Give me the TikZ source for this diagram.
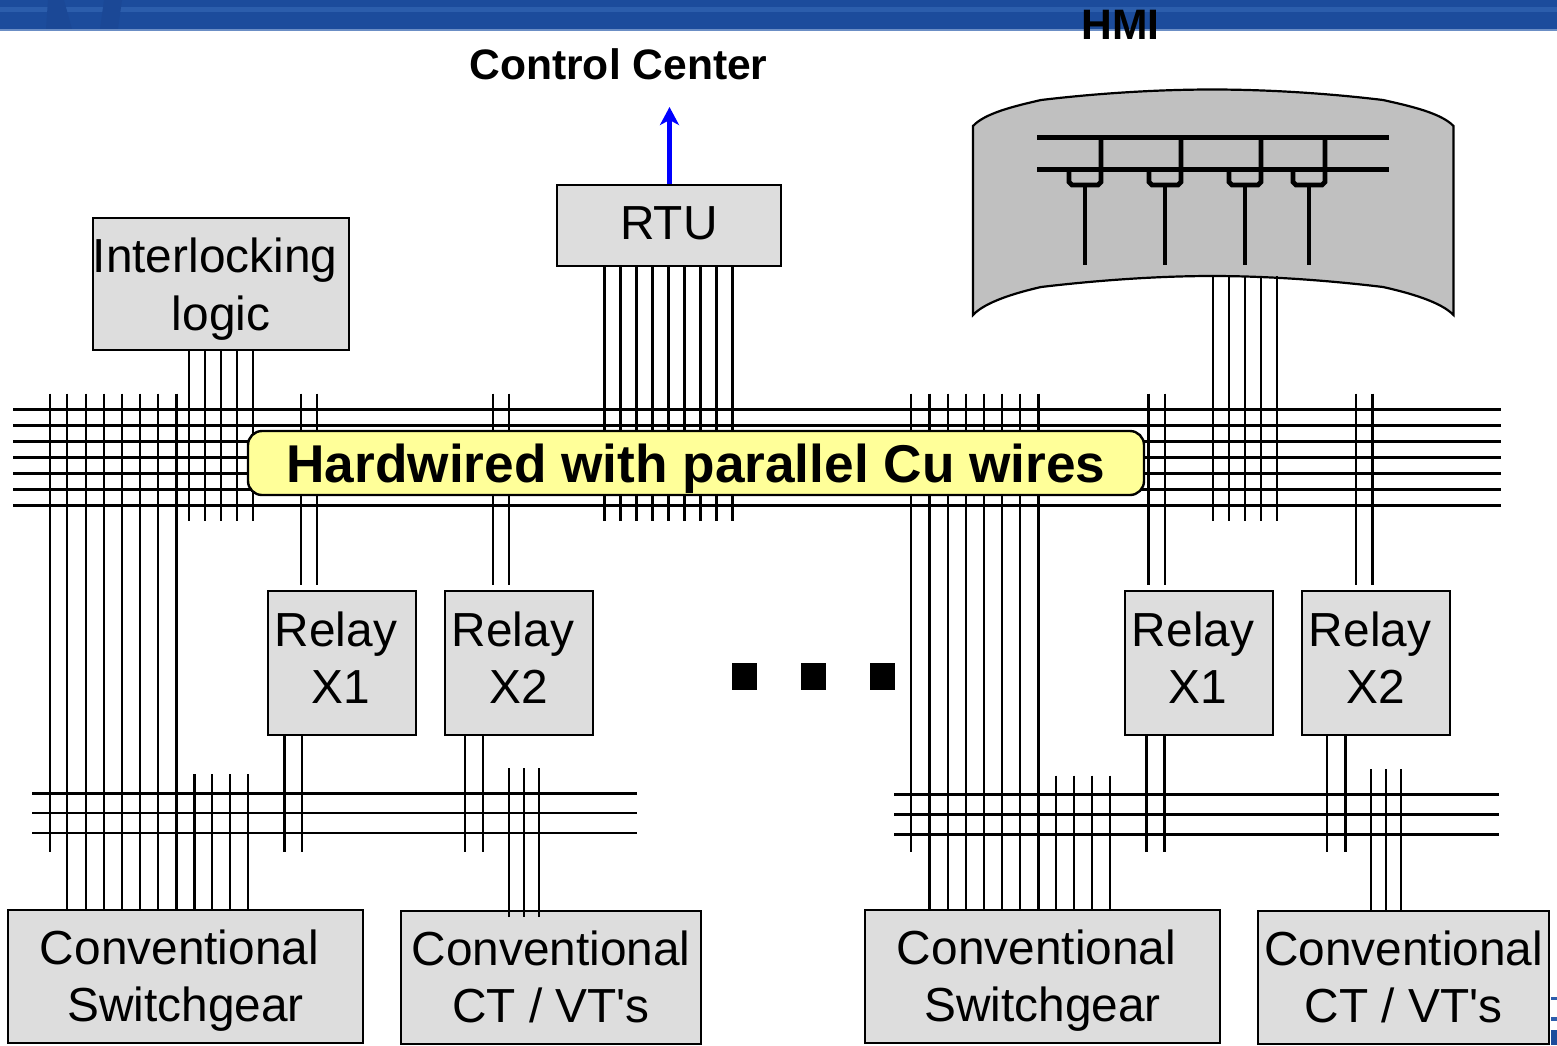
\documentclass[tikz,border=0pt]{standalone}
\usepackage{fontspec}
\setmainfont{Liberation Sans}[Ligatures=TeXOff]
\usetikzlibrary{arrows.meta}
\definecolor{bandblue}{HTML}{1C4C9C}
\definecolor{bandlight}{HTML}{2C5EAC}
\definecolor{banddark}{HTML}{1B4896}
\definecolor{boxgray}{HTML}{DDDDDD}
\definecolor{hmigray}{HTML}{C0C0C0}
\definecolor{labelyellow}{HTML}{FFFF99}
\tikzset{
  wire/.style={line width=1.1pt},
  hmiwire/.style={line width=2.4pt},
  boxnode/.style={draw=black,line width=1.1pt,fill=boxgray,inner sep=0pt,align=center,
    font=\fontsize{23.9}{28.5}\selectfont},
  titlenode/.style={font=\fontsize{21.3}{25}\selectfont\bfseries,inner sep=0pt},
  dotnode/.style={fill=black,inner sep=0pt,minimum width=12.5pt,minimum height=13.5pt}
}
\newcommand{\boxline}[3]{\raisebox{#2}[\height][\depth]{#3}\kern#1}
\newcommand{\wirerun}[4]{%
  \foreach \x [count=\i] in {#2} {
    \coordinate (#1top\i) at (\x,0 |- #3);
    \coordinate (#1end\i) at (\x,0 |- #4);
    \draw[wire] (#1top\i) to (#1end\i);
  }}
\newcommand{\busrun}[4]{%
  \foreach \y [count=\i] in {#2} {
    \coordinate (#1left\i) at (#3,\y);
    \coordinate (#1right\i) at (#4,\y);
    \draw[wire] (#1left\i) to (#1right\i);
  }}
\begin{document}
\begin{tikzpicture}[x=0.5pt,y=-0.5pt]
  \useasboundingbox (0,0) rectangle (1557,1045);
  % top band
  \fill[bandblue] (0,0) rectangle (1557,29);
  \fill[bandlight] (0,7) rectangle (1557,12);
  \fill[banddark] (48,0) -- (64,0) -- (72,29) -- (46,29) -- cycle;
  \fill[banddark] (104,0) -- (122,0) -- (118,29) -- (100,29) -- cycle;
  \fill[bandlight!70!white] (0,28.5) rectangle (1557,31);
  % corner of the logo
  \fill[bandblue] (1551,1030) rectangle (1557,1045);
  \fill[bandlight] (1551,997) rectangle (1557,1000);
  \fill[bandlight] (1551,1017) rectangle (1557,1021);
  % levels used by the wires
  \coordinate (bustop) at (0,393.5);
  \coordinate (busend) at (0,521);
  \coordinate (relaystop) at (0,585);
  \coordinate (lowend) at (0,852);
  % boxes
  \draw
    (221,284) node[boxnode,minimum width=128pt,minimum height=66pt] (interlock){\boxline{6pt}{-2.5pt}{Interlocking}\\\boxline{0pt}{-2.8pt}{logic}}
    (669,225.5) node[boxnode,minimum width=112pt,minimum height=40.5pt] (rtu){\boxline{0pt}{1pt}{RTU}}
    (342,663) node[boxnode,minimum width=74pt,minimum height=72pt] (relayA){\boxline{6pt}{2.5pt}{Relay}\\\boxline{1pt}{2.8pt}{X1}}
    (519,663) node[boxnode,minimum width=74pt,minimum height=72pt] (relayB){\boxline{6pt}{2.5pt}{Relay}\\\boxline{0pt}{2.8pt}{X2}}
    (1199,663) node[boxnode,minimum width=74pt,minimum height=72pt] (relayC){\boxline{6pt}{2.5pt}{Relay}\\\boxline{1pt}{2.8pt}{X1}}
    (1376,663) node[boxnode,minimum width=74pt,minimum height=72pt] (relayD){\boxline{6pt}{2.5pt}{Relay}\\\boxline{0pt}{2.8pt}{X2}}
    (185.5,976.5) node[boxnode,minimum width=177.5pt,minimum height=66.5pt] (gearA){\boxline{6pt}{-2pt}{Conventional}\\\boxline{0pt}{-2pt}{Switchgear}}
    (551,977.5) node[boxnode,minimum width=150pt,minimum height=66.5pt] (ctA){\boxline{0pt}{0.5pt}{Conventional}\\\boxline{0pt}{0.5pt}{CT / VT's}}
    (1042.5,976.5) node[boxnode,minimum width=177.5pt,minimum height=66.5pt] (gearB){\boxline{6pt}{-2pt}{Conventional}\\\boxline{0pt}{-2pt}{Switchgear}}
    (1403.5,977.5) node[boxnode,minimum width=145.5pt,minimum height=66.5pt] (ctB){\boxline{0pt}{0.5pt}{Conventional}\\\boxline{0pt}{0.5pt}{CT / VT's}};
  % HMI screen
  \draw[line width=1.1pt,fill=hmigray]
    (973,126) .. controls (985,113) and (1015,106) .. (1041,100)
    .. controls (1100,93) and (1160,89.5) .. (1212,89.5)
    .. controls (1265,89.5) and (1325,93) .. (1383,100)
    .. controls (1410,106) and (1441,113) .. (1453.5,126)
    -- (1453.5,315)
    .. controls (1441,302) and (1410,293) .. (1383,287)
    .. controls (1325,280) and (1265,276) .. (1212,276)
    .. controls (1160,276) and (1100,280) .. (1041,287)
    .. controls (1015,293) and (985,302) .. (973,315) -- cycle;
  \coordinate (hmibase) at (0,276);
  % bus on the screen
  \begin{scope}[hmiwire]
    \coordinate (hmiAleft) at (1037,137.5);
    \coordinate (hmiAright) at (1389,137.5);
    \coordinate (hmiBleft) at (1037,169.5);
    \coordinate (hmiBright) at (1389,169.5);
    \draw (hmiAleft) to (hmiAright);
    \draw (hmiBleft) to (hmiBright);
    \foreach \x in {1085,1165,1245,1309} {
      \draw (\x-16,169.5) -- (\x-16,182) -- (\x-13,185) -- (\x+13,185) -- (\x+16,182) -- (\x+16,137.5);
      \draw (\x,185) -- (\x,265);
    }
  \end{scope}
  % long buses
  \busrun{bus}{409.5,425.5,441.5,457.5,473.5,489.5,505.5}{13}{1501}
  \busrun{lowA}{793.5,813,833}{32}{637}
  \busrun{lowB}{794.5,814.5,834.5}{894}{1499}
  % wires on the left
  \wirerun{leftA}{49.7}{bustop}{lowend}
  \wirerun{leftB}{67.3,86,104,122,139.7,158,176.4}{bustop}{gearA.north}
  \coordinate (gearAtop) at (0,774);
  \wirerun{leftC}{194.4,212,230,248.3}{gearAtop}{gearA.north}
  \wirerun{lock}{189,205,221,237,253}{interlock.south}{busend}
  \wirerun{rtu}{604.5,620.5,636.5,652.5,668.5,684.5,700.5,716.5,732.5}{rtu.south}{busend}
  \wirerun{upA}{301,317}{bustop}{relaystop}
  \wirerun{upB}{493,509}{bustop}{relaystop}
  \wirerun{downA}{284.5,302}{relayA.south}{lowend}
  \wirerun{downB}{465,483}{relayB.south}{lowend}
  \coordinate (ctAtop) at (0,768);
  \coordinate (ctAend) at (0,917);
  \wirerun{ctA}{509,524,539}{ctAtop}{ctAend}
  % wires on the right
  \wirerun{rightA}{911}{bustop}{lowend}
  \wirerun{rightB}{929.5,947.8,966,984,1002,1020,1038.5}{bustop}{gearB.north}
  \coordinate (gearBtop) at (0,775.5);
  \wirerun{rightC}{1055.7,1074,1092,1110}{gearBtop}{gearB.north}
  \wirerun{hmi}{1213,1229,1245,1261,1277}{hmibase}{busend}
  \wirerun{upC}{1148.5,1165}{bustop}{relaystop}
  \wirerun{upD}{1356,1372.5}{bustop}{relaystop}
  \wirerun{downC}{1146.5,1164.5}{relayC.south}{lowend}
  \wirerun{downD}{1327,1345.5}{relayD.south}{lowend}
  \coordinate (ctBtop) at (0,769);
  \wirerun{ctB}{1371,1386,1401}{ctBtop}{ctB.north}
  % label over the wires
  \draw
    (696,463) node[draw=black,line width=1.2pt,fill=labelyellow,rounded corners=7pt,inner sep=0pt,
      minimum width=448pt,minimum height=32pt,
      font=\fontsize{26.6}{30}\selectfont\bfseries] (hardwired){\boxline{0pt}{-3pt}{Hardwired with parallel Cu wires}}
    (618.5,64) node[titlenode] (center){Control Center}
    (1120.5,25) node[titlenode] (hmitext){HMI}
    (744.5,676.5) node[dotnode] (dotA){}
    (813.5,676.5) node[dotnode] (dotB){}
    (882.5,676.5) node[dotnode] (dotC){};
  % uplink
  \coordinate (uplink) at (669.5,107);
  \draw[line width=2.7pt,blue,-{Stealth[length=9pt,width=9.5pt,inset=2.5pt]}] (rtu.north -| uplink) to (uplink);
\end{tikzpicture}
\end{document}
